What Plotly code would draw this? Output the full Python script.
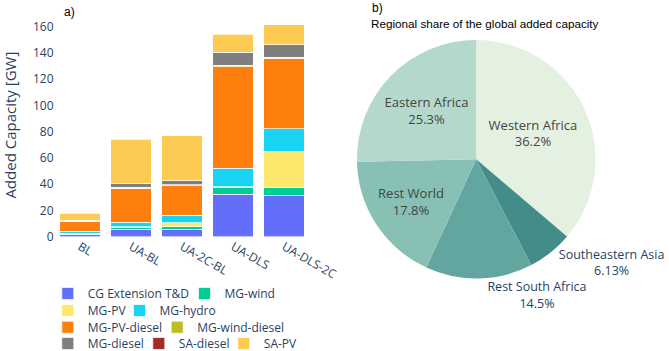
import plotly.graph_objects as go

# ---------------- data ----------------
scenarios = ["BL", "UA-BL", "UA-2C-BL", "UA-DLS", "UA-DLS-2C"]

tech_names = ["CG Extension T&D", "MG-wind", "MG-PV", "MG-hydro", "MG-PV-diesel",
              "MG-wind-diesel", "MG-diesel", "SA-diesel", "SA-PV"]

cg_extension = [2.0, 5.6, 5.6, 32.3, 31.3]
mg_wind = [0.5, 1.5, 1.8, 5.1, 6.4]
mg_pv = [0.2, 0.3, 3.3, 0.6, 27.2]
mg_hydro = [1.3, 3.8, 5.8, 14.0, 17.5]
mg_pv_diesel = [7.6, 25.7, 22.4, 77.6, 53.6]
mg_wind_diesel = [0.3, 0.8, 0.8, 1.0, 0.7]
mg_diesel = [0.4, 2.6, 2.8, 9.7, 9.4]
sa_diesel = [0.1, 0.1, 0.1, 0.1, 0.1]
sa_pv = [5.4, 33.9, 34.3, 13.9, 15.3]

series = [cg_extension, mg_wind, mg_pv, mg_hydro, mg_pv_diesel,
          mg_wind_diesel, mg_diesel, sa_diesel, sa_pv]

tech_colors = ["#636efa", "#00cc96", "#fee86c", "#19d3f3", "#ff7f0e",
               "#bcbd22", "#7f7f7f", "#a52a2a", "#fecb52"]

regions = ["Western Africa", "Southeastern Asia", "Rest South Africa", "Rest World", "Eastern Africa"]
region_share = [36.2, 6.13, 14.5, 17.8, 25.3]
region_colors = ["rgb(228,241,225)", "rgb(68,140,138)", "rgb(99,166,160)",
                 "rgb(137,192,182)", "rgb(180,217,204)"]
# labels drawn by the main pie / by a transparent overlay pie (avoids label scooting)
region_textpos_main = ["inside", "outside", "none", "inside", "inside"]
region_textpos_overlay = ["none", "none", "outside", "none", "none"]

# legend item placement (swatch centre px, row centre px)
legend_pos = [(67.8, 293.5), (204.5, 293.5), (67.8, 310.5), (139.5, 310.5), (67.8, 327.2),
              (177.2, 327.2), (67.8, 343.5), (158.8, 343.5), (243.8, 343.5)]

W, H = 669, 351

fig = go.Figure()

for i, (name, vals, col) in enumerate(zip(tech_names, series, tech_colors)):
    lg = "legend" if i == 0 else f"legend{i + 1}"
    fig.add_trace(go.Bar(
        x=scenarios, y=vals, name=name, marker_color=col,
        marker_line=dict(color="white", width=0.7),
        legend=lg,
    ))

pie_domain = dict(x=[356.7 / W, 595.7 / W], y=[1 - 278.5 / H, 1 - 40 / H])

fig.add_trace(go.Pie(
    labels=regions, values=region_share, sort=False, direction="clockwise",
    rotation=0, marker=dict(colors=region_colors, line=dict(width=0)),
    textinfo="label+percent", textposition=region_textpos_main,
    insidetextorientation="horizontal",
    automargin=False,
    textfont=dict(size=13),
    insidetextfont=dict(color="#444444", size=13),
    outsidetextfont=dict(color="#2a3f5f", size=12.5),
    showlegend=False,
    domain=pie_domain,
))

fig.add_trace(go.Pie(
    labels=regions, values=region_share, sort=False, direction="clockwise",
    rotation=0,
    marker=dict(colors=["rgba(0,0,0,0)"] * len(regions), line=dict(width=0)),
    textinfo="label+percent", textposition=region_textpos_overlay,
    automargin=False,
    outsidetextfont=dict(color="#2a3f5f", size=12.5),
    showlegend=False, hoverinfo="skip",
    domain=pie_domain,
))

layout_legends = {}
for i, (cx, cy) in enumerate(legend_pos):
    key = "legend" if i == 0 else f"legend{i + 1}"
    layout_legends[key] = dict(
        x=(cx - 20) / W, y=1 - cy / H, xanchor="left", yanchor="middle",
        orientation="h", font=dict(size=12, color="#2a3f5f"),
        bgcolor="rgba(0,0,0,0)",
    )

fig.update_layout(
    width=W, height=H,
    margin=dict(l=0, r=0, t=0, b=0, autoexpand=False),
    barmode="stack",
    bargap=0.2,
    paper_bgcolor="white",
    plot_bgcolor="white",
    font=dict(family="Open Sans", size=12, color="#2a3f5f"),
    xaxis=dict(domain=[54.5 / W, 309.5 / W], tickangle=30, showgrid=False,
               automargin=False, tickfont=dict(size=12)),
    yaxis=dict(domain=[1 - 236.7 / H, 1 - 13.6 / H], range=[0, 170],
               showgrid=False, zeroline=False, tickfont=dict(size=12),
               dtick=20, automargin=False,
               title=dict(text="Added Capacity [GW]", font=dict(size=15))),
    annotations=[
        dict(text="a)", x=62 / W, y=1 - 12 / H, xref="paper", yref="paper",
             xanchor="left", yanchor="middle", showarrow=False,
             font=dict(family="Liberation Sans", size=12, color="black")),
        dict(text="b)", x=370 / W, y=1 - 8 / H, xref="paper", yref="paper",
             xanchor="left", yanchor="middle", showarrow=False,
             font=dict(family="Liberation Sans", size=12, color="black")),
        dict(text="Regional share of the global added capacity", x=369 / W, y=1 - 24 / H,
             xref="paper", yref="paper", xanchor="left", yanchor="middle",
             showarrow=False,
             font=dict(family="Liberation Sans", size=11.7, color="black")),
    ],
    **layout_legends,
)

fig.write_html("out.html")
